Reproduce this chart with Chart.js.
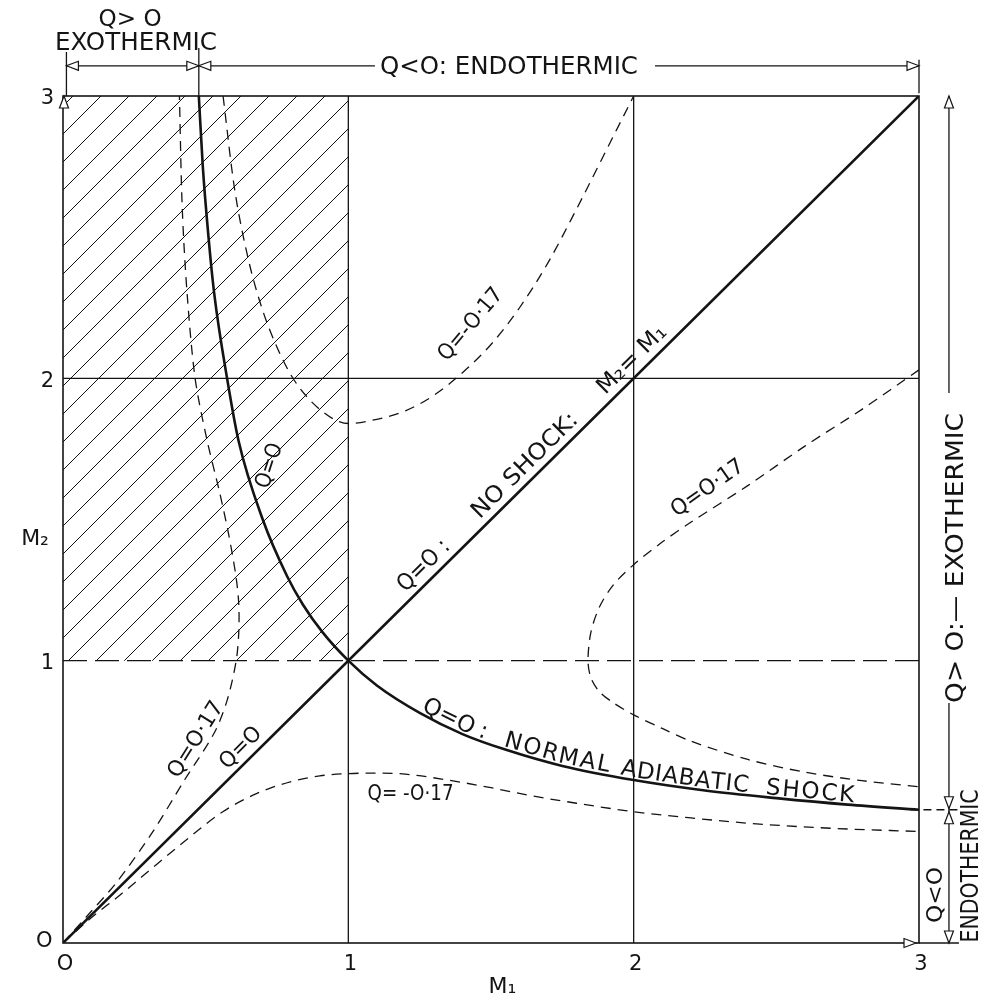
<!DOCTYPE html>
<html>
<head>
<meta charset="utf-8">
<title>M2 against M1</title>
<script src="https://cdn.jsdelivr.net/npm/chart.js@4.4.1/dist/chart.umd.min.js"></script>
<style>
  body { margin: 0; background: #fff; }
  canvas { display: block; }
</style>
</head>
<body>
<canvas id="machChart" width="991" height="1003"></canvas>
<script>
// Axis ticks (the drawing writes zero as the letter O)
const tickValues = [0, 1, 2, 3];
const tickText = ['O', '1', '2', '3'];

// Q = 0 : no shock, M2 = M1
const noShockM1 = [0, 3];
const noShockM2 = [0, 3];

// Q = 0 : normal adiabatic shock (both branches, through M1 = M2 = 1)
const adiabaticM1 = [0.476, 0.49, 0.51, 0.53, 0.575, 0.615, 0.70, 0.785, 0.84, 0.91, 1.0, 1.1, 1.25, 1.4, 1.55, 1.75, 2.0, 2.25, 2.5, 2.75, 3.0];
const adiabaticM2 = [3.0, 2.75, 2.5, 2.3, 2.0, 1.78, 1.5, 1.3, 1.2, 1.1, 1.0, 0.912, 0.815, 0.74, 0.685, 0.627, 0.577, 0.54, 0.513, 0.49, 0.472];

// Q = 0.17 (exothermic), branch from the origin
const exoLeftM1 = [0, 0.083, 0.186, 0.312, 0.427, 0.53, 0.576, 0.607, 0.616, 0.616, 0.606, 0.58, 0.548, 0.505, 0.463, 0.435, 0.418, 0.408];
const exoLeftM2 = [0, 0.094, 0.2125, 0.39, 0.579, 0.744, 0.862, 1.0, 1.1, 1.2, 1.3, 1.45, 1.6, 1.78, 2.0, 2.3, 2.6, 3.0];

// Q = 0.17 (exothermic), right hand loop
const exoRightM1 = [3.0, 2.8, 2.6, 2.4, 2.2, 2.1, 2.0, 1.93, 1.88, 1.85, 1.84, 1.85, 1.88, 1.93, 2.0, 2.1, 2.2, 2.4, 2.6, 2.8, 3.0];
const exoRightM2 = [2.03, 1.89, 1.76, 1.62, 1.49, 1.42, 1.34, 1.27, 1.19, 1.1, 1.0, 0.94, 0.89, 0.85, 0.808, 0.76, 0.715, 0.65, 0.605, 0.575, 0.553];

// Q = -0.17 (endothermic), upper branch
const endoUpperM1 = [0.561, 0.6, 0.65, 0.7, 0.75, 0.8, 0.85, 0.9, 0.95, 1.0, 1.1, 1.2, 1.3, 1.4, 1.5, 1.6, 1.7, 1.8, 1.9, 2.0];
const endoUpperM2 = [3.0, 2.68, 2.42, 2.24, 2.11, 2.01, 1.94, 1.89, 1.855, 1.84, 1.855, 1.885, 1.94, 2.02, 2.12, 2.25, 2.41, 2.6, 2.8, 3.0];

// Q = -0.17 (endothermic), lower branch
const endoLowerM1 = [0, 0.1, 0.2, 0.33, 0.45, 0.56, 0.68, 0.8, 0.9, 1.0, 1.1, 1.2, 1.35, 1.5, 1.65, 1.8, 2.0, 2.2, 2.43, 2.7, 3.0];
const endoLowerM2 = [0, 0.09, 0.17, 0.28, 0.38, 0.465, 0.53, 0.572, 0.592, 0.6, 0.602, 0.598, 0.577, 0.55, 0.52, 0.495, 0.465, 0.443, 0.422, 0.406, 0.395];

const ink = '#141414';
const face = '"DejaVu Sans", "Liberation Sans", sans-serif';

const pairs = (m1, m2) => m1.map((v, i) => ({ x: v, y: m2[i] }));

function curve(m1, m2, width, dash, monotone) {
    return {
        data: pairs(m1, m2),
        showLine: true,
        borderColor: ink,
        borderWidth: width,
        borderDash: dash,
        pointRadius: 0,
        fill: false,
        tension: 0.3,
        cubicInterpolationMode: monotone ? 'monotone' : 'default'
    };
}

// text helper: centred (or left) text, rotated, squeezed to a width
function write(ctx, str, x, y, size, angle, width, align) {
    ctx.save();
    ctx.translate(x, y);
    ctx.rotate(angle * Math.PI / 180);
    ctx.font = size + 'px ' + face;
    ctx.textAlign = align || 'center';
    ctx.textBaseline = 'middle';
    if (width) ctx.scale(width / ctx.measureText(str).width, 1);
    ctx.fillText(str, 0, 0);
    ctx.restore();
}

function seg(ctx, x1, y1, x2, y2) {
    ctx.beginPath();
    ctx.moveTo(x1, y1);
    ctx.lineTo(x2, y2);
    ctx.stroke();
}

// open arrow head, tip at x,y
function arrow(ctx, x, y, dir) {
    const a = { right: 0, down: 90, left: 180, up: -90 }[dir] * Math.PI / 180;
    ctx.save();
    ctx.translate(x, y);
    ctx.rotate(a);
    ctx.beginPath();
    ctx.moveTo(0, 0);
    ctx.lineTo(-12, -4.5);
    ctx.lineTo(-12, 4.5);
    ctx.closePath();
    ctx.fillStyle = '#fff';
    ctx.fill();
    ctx.lineWidth = 1.2;
    ctx.stroke();
    ctx.restore();
}

// letters of one word laid along a polyline, between two x pixels
function alongPath(ctx, pts, str, fromX, toX, lift, size) {
    const cum = [0];
    for (let i = 1; i < pts.length; i++) {
        cum.push(cum[i - 1] + Math.hypot(pts[i].x - pts[i - 1].x, pts[i].y - pts[i - 1].y));
    }
    const lenAtX = px => {
        for (let i = 1; i < pts.length; i++) {
            if (pts[i].x >= px) {
                const t = (px - pts[i - 1].x) / (pts[i].x - pts[i - 1].x);
                return cum[i - 1] + t * (cum[i] - cum[i - 1]);
            }
        }
        return cum[cum.length - 1];
    };
    const posAt = s => {
        for (let i = 1; i < pts.length; i++) {
            if (cum[i] >= s || i === pts.length - 1) {
                const t = (s - cum[i - 1]) / (cum[i] - cum[i - 1]);
                return {
                    x: pts[i - 1].x + t * (pts[i].x - pts[i - 1].x),
                    y: pts[i - 1].y + t * (pts[i].y - pts[i - 1].y),
                    a: Math.atan2(pts[i].y - pts[i - 1].y, pts[i].x - pts[i - 1].x)
                };
            }
        }
    };
    ctx.save();
    ctx.font = size + 'px ' + face;
    ctx.textAlign = 'center';
    ctx.textBaseline = 'alphabetic';
    const chars = [...str];
    const widths = chars.map(c => ctx.measureText(c).width);
    const total = widths.reduce((a, b) => a + b, 0);
    const s0 = lenAtX(fromX), s1 = lenAtX(toX);
    const gap = chars.length > 1 ? (s1 - s0 - total) / (chars.length - 1) : 0;
    let s = s0;
    chars.forEach((c, i) => {
        const p = posAt(s + widths[i] / 2);
        ctx.save();
        ctx.translate(p.x, p.y);
        ctx.rotate(p.a);
        ctx.fillText(c, 0, -lift);
        ctx.restore();
        s += widths[i] + gap;
    });
    ctx.restore();
}

const drawing = {
    id: 'drawing',
    beforeDatasetsDraw(chart) {
        const { ctx } = chart;
        const X = v => chart.scales.x.getPixelForValue(v);
        const Y = v => chart.scales.y.getPixelForValue(v);
        ctx.save();
        ctx.strokeStyle = ink;

        // hatched region M1 < 1, M2 > 1
        ctx.save();
        ctx.beginPath();
        ctx.rect(X(0), Y(3), X(1) - X(0), Y(1) - Y(3));
        ctx.clip();
        ctx.lineWidth = 1;
        for (let k = -40; k <= 4; k++) {
            const px = X(1) + k * 28;
            seg(ctx, px - 1000, Y(1) + 1000, px + 1000, Y(1) - 1000);
        }
        ctx.restore();

        // grid
        ctx.lineWidth = 1.3;
        seg(ctx, X(1), Y(0), X(1), Y(3));
        seg(ctx, X(2), Y(0), X(2), Y(3));
        seg(ctx, X(0), Y(2), X(3), Y(2));
        ctx.setLineDash([24, 8]);
        seg(ctx, X(0), Y(1), X(3), Y(1));
        ctx.setLineDash([]);
        ctx.lineWidth = 1.6;
        ctx.strokeRect(X(0), Y(3), X(3) - X(0), Y(0) - Y(3));
        ctx.restore();
    },
    afterDraw(chart) {
        const { ctx } = chart;
        const X = v => chart.scales.x.getPixelForValue(v);
        const Y = v => chart.scales.y.getPixelForValue(v);
        ctx.save();
        ctx.fillStyle = ink;
        ctx.strokeStyle = ink;
        ctx.lineWidth = 1.3;

        // tick labels
        tickValues.forEach((v, i) => {
            write(ctx, tickText[i], X(v) + 2, Y(-0.078), 21, 0);
            write(ctx, tickText[i], X(-0.055) - (v === 0 ? 3 : 0), Y(v) + (v === 0 ? -1 : 3), 21, 0);
        });
        write(ctx, 'M\u2081', X(1.54), Y(-0.156), 22, 0);
        write(ctx, 'M\u2082', X(-0.098), Y(1.43), 22, 0);

        // axis arrow heads
        arrow(ctx, X(0) + 1, Y(3), 'up');
        arrow(ctx, X(3) - 3, Y(0), 'right');

        // top dimension line
        const yDim = Y(3.107);
        const xa = X(0.012), xb = X(adiabaticM1[0]), xc = X(3);
        seg(ctx, xa, Y(3.156), xa, Y(3));
        seg(ctx, xb, Y(3.17), xb, Y(3));
        seg(ctx, xc, Y(3.128), xc, Y(3.01));
        const xt = X(1.563);
        seg(ctx, xa, yDim, xb, yDim);
        seg(ctx, xb, yDim, xt - 134, yDim);
        seg(ctx, xt + 146, yDim, xc, yDim);
        arrow(ctx, xa, yDim, 'left');
        arrow(ctx, xb, yDim, 'right');
        arrow(ctx, xb, yDim, 'left');
        arrow(ctx, xc, yDim, 'right');
        write(ctx, 'Q> O', X(0.235), Y(3.27), 23, 0, 63);
        write(ctx, 'EXOTHERMIC', X(0.256), Y(3.185), 24, 0, 162);
        write(ctx, 'Q<O: ENDOTHERMIC', xt, Y(3.1), 24, 0, 258);

        // right dimension line
        const xr = X(3.105);
        const yDiv = Y(adiabaticM2[adiabaticM2.length - 1]);
        seg(ctx, xr, Y(3), xr, Y(1.948));
        seg(ctx, xr, Y(0.85), xr, yDiv);
        seg(ctx, xr, yDiv, xr, Y(0));
        arrow(ctx, xr, Y(3), 'up');
        arrow(ctx, xr, yDiv - 1, 'down');
        arrow(ctx, xr, yDiv + 2, 'up');
        arrow(ctx, xr, Y(0), 'down');
        ctx.setLineDash([8, 5]);
        seg(ctx, X(2.97), yDiv, X(3.14), yDiv);
        ctx.setLineDash([]);
        seg(ctx, X(3), Y(0), X(3.14), Y(0));
        write(ctx, 'Q> O:\u2014 EXOTHERMIC', X(3.134), Y(1.364), 24, -90, 290);
        write(ctx, 'Q<O', X(3.06), Y(0.17), 22, -90, 56);
        write(ctx, 'ENDOTHERMIC', X(3.186), Y(0.273), 24, -90, 153);

        // curve labels
        write(ctx, 'Q=O', X(0.725), Y(1.69), 22, -72, 46);
        write(ctx, 'Q=-O\u00b717', X(1.43), Y(2.19), 22, -50, 88);
        write(ctx, 'Q=O\u00b717', X(2.26), Y(1.61), 22, -35, 84);
        write(ctx, 'Q= -O\u00b717', X(1.218), Y(0.525), 21, 0, 86);
        write(ctx, 'Q=O\u00b717', X(0.467), Y(0.72), 22, -58, 86);
        write(ctx, 'Q=O', X(0.624), Y(0.69), 22, -45, 50);

        // labels along the no-shock diagonal
        const ang = Math.atan2(Y(3) - Y(0), X(3) - X(0));
        const onDiag = (m, str, w) => {
            const lift = 14;
            write(ctx, str, X(m) + Math.sin(ang) * lift, Y(m) - Math.cos(ang) * lift,
                23, ang * 180 / Math.PI, w, 'left');
        };
        onDiag(1.22, 'Q=O :', 64);
        onDiag(1.48, 'NO SHOCK:', 140);
        onDiag(1.92, 'M\u2082= M\u2081', 88);

        // label along the supersonic branch of the adiabatic shock
        const pts = chart.getDatasetMeta(1).data
            .filter(p => p.x >= X(1) - 0.5)
            .map(p => ({ x: p.x, y: p.y }));
        alongPath(ctx, pts, 'Q=O :', X(1.25), X(1.475), 3, 23);
        alongPath(ctx, pts, 'NORMAL', X(1.54), X(1.91), 3, 23);
        alongPath(ctx, pts, 'ADIABATIC', X(1.95), X(2.40), 3, 23);
        alongPath(ctx, pts, 'SHOCK', X(2.46), X(2.77), 3, 23);

        ctx.restore();
    }
};

new Chart(document.getElementById('machChart'), {
    type: 'scatter',
    data: {
        datasets: [
            curve(noShockM1, noShockM2, 2.6, [], false),
            curve(adiabaticM1, adiabaticM2, 2.6, [], true),
            curve(exoLeftM1, exoLeftM2, 1.3, [10, 7], false),
            curve(exoRightM1, exoRightM2, 1.3, [10, 7], false),
            curve(endoUpperM1, endoUpperM2, 1.3, [10, 7], true),
            curve(endoLowerM1, endoLowerM2, 1.3, [10, 7], true)
        ]
    },
    options: {
        responsive: false,
        devicePixelRatio: 1,
        animation: false,
        layout: { padding: { left: 63, right: 72, top: 96, bottom: 60 } },
        plugins: { legend: { display: false }, tooltip: { enabled: false } },
        scales: {
            x: { type: 'linear', min: 0, max: 3, display: false },
            y: { type: 'linear', min: 0, max: 3, display: false }
        }
    },
    plugins: [drawing]
});
</script>
</body>
</html>
